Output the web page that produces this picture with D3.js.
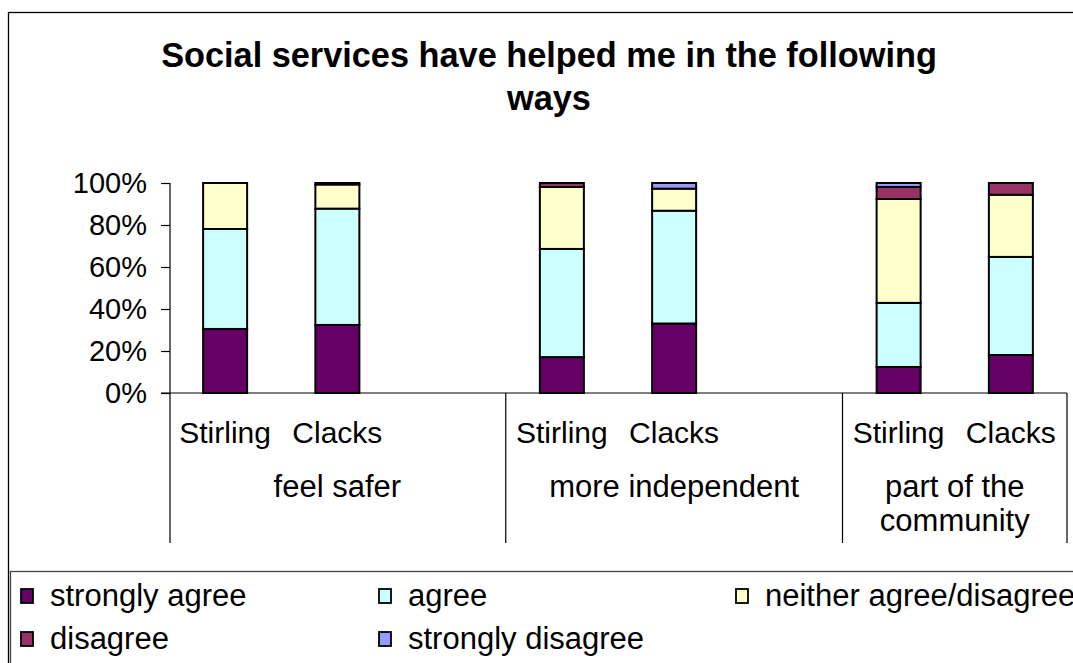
<!DOCTYPE html>
<html>
<head>
<meta charset="utf-8">
<script src="https://cdn.jsdelivr.net/npm/d3@7/dist/d3.min.js"></script>
<style>
  html, body { margin: 0; padding: 0; background: #fff; }
  svg { display: block; }
  text { font-family: "Liberation Sans", Arial, sans-serif; fill: #000; }
</style>
</head>
<body>
<svg id="chart" width="1073" height="663"></svg>
<script>
// ---- data ----
const titleLines = ["Social services have helped me in the following", "ways"];
const groups = ["feel safer", "more independent", "part of the community"];
const groupLabelLines = [["feel safer"], ["more independent"], ["part of the", "community"]];
const areas = ["Stirling", "Clacks"];
const seriesNames = ["strongly agree", "agree", "neither agree/disagree", "disagree", "strongly disagree"];
const seriesColors = ["#660066", "#CCFFFF", "#FFFFCC", "#993366", "#9999FF"];
// values in %, bar order: feel safer (Stirling, Clacks), more independent (Stirling, Clacks), part of the community (Stirling, Clacks)
const stronglyAgree    = [30.5, 32.4, 17.1, 33.1, 12.4, 18.1];
const agree            = [47.6, 55.4, 51.5, 53.7, 30.5, 46.7];
const neither          = [21.9, 11.5, 29.5, 10.5, 49.5, 29.6];
const disagree         = [0.0,  0.7,  1.9,  0.0,  5.7,  5.6];
const stronglyDisagree = [0.0,  0.0,  0.0,  2.7,  1.9,  0.0];
const yTicks = [0, 0.2, 0.4, 0.6, 0.8, 1.0];

// ---- build table ----
const seriesValues = [stronglyAgree, agree, neither, disagree, stronglyDisagree];
const rows = [];
groups.forEach((g, gi) => {
  areas.forEach((a, ai) => {
    const idx = gi * areas.length + ai;
    const r = { key: g + "|" + a, group: g, area: a };
    seriesNames.forEach((s, si) => { r[s] = seriesValues[si][idx] / 100; });
    rows.push(r);
  });
});
const slots = [];
groups.forEach((g, gi) => {
  areas.forEach(a => slots.push(g + "|" + a));
  if (gi < groups.length - 1) slots.push("gap" + gi);
});

const svg = d3.select("#chart");

// outer chart border
svg.append("rect").attr("x", 8.5).attr("y", 12.5).attr("width", 1100).attr("height", 700)
  .attr("fill", "none").attr("stroke", "#000").attr("stroke-width", 1.3);

// title
svg.append("text").attr("x", 549).attr("y", 67).attr("text-anchor", "middle")
  .style("font-weight", "bold").style("font-size", "34.3px")
  .selectAll("tspan").data(titleLines).join("tspan")
  .attr("x", 549).attr("dy", (d, i) => i === 0 ? 0 : 43).text(d => d);

// scales
const x = d3.scaleBand().domain(slots).range([169, 1067]).paddingInner(0.608).paddingOuter(0.304);
const y = d3.scaleLinear().domain([0, 1]).range([393, 183]);

// y axis
const yAxis = d3.axisLeft(y).tickValues(yTicks).tickFormat(d3.format(".0%")).tickSize(9).tickPadding(14);
const gy = svg.append("g").attr("transform", "translate(170,0)").call(yAxis);
gy.select(".domain").remove();
gy.selectAll(".tick line").attr("stroke", "#000").attr("stroke-width", 1.2);
gy.selectAll(".tick text").style("font-size", "29px").attr("fill", "#000");
// y axis line extending down to the bottom of category area
svg.append("line").attr("x1", 170).attr("x2", 170).attr("y1", 183).attr("y2", 543)
  .attr("stroke", "#000").attr("stroke-width", 1.2);

// stacked bars
const stack = d3.stack().keys(seriesNames);
const stacked = stack(rows);
svg.append("g").selectAll("g").data(stacked).join("g")
  .attr("fill", (d, i) => seriesColors[i])
  .selectAll("rect").data(d => d.filter(p => p[1] - p[0] > 0)).join("rect")
  .attr("x", d => x(d.data.key))
  .attr("width", x.bandwidth())
  .attr("y", d => y(d[1]))
  .attr("height", d => y(d[0]) - y(d[1]))
  .attr("stroke", "#000").attr("stroke-width", 2);

// x axis line
svg.append("line").attr("x1", 161).attr("x2", 1067).attr("y1", 393).attr("y2", 393)
  .attr("stroke", "#000").attr("stroke-width", 1.2);

// group dividers
const step = x.step();
const x0 = x.range()[0];
const dividerXs = [];
groups.forEach((g) => {
  const first = slots.indexOf(g + "|" + areas[0]);
  dividerXs.push(x0 + step * first);
});
dividerXs.push(x.range()[1]);
svg.append("g").selectAll("line").data(dividerXs.slice(1)).join("line")
  .attr("x1", d => d).attr("x2", d => d).attr("y1", 393).attr("y2", 543)
  .attr("stroke", "#000").attr("stroke-width", 1.2);

// area labels
svg.append("g").selectAll("text").data(rows).join("text")
  .attr("x", d => x(d.key) + x.bandwidth() / 2).attr("y", 443)
  .attr("text-anchor", "middle").style("font-size", "30px").text(d => d.area);

// group labels
groups.forEach((g, gi) => {
  const cx = (dividerXs[gi] + dividerXs[gi + 1]) / 2;
  svg.append("text").attr("x", cx).attr("y", 497).attr("text-anchor", "middle")
    .style("font-size", "31px")
    .selectAll("tspan").data(groupLabelLines[gi]).join("tspan")
    .attr("x", cx).attr("dy", (d, i) => i === 0 ? 0 : 34).text(d => d);
});

// legend
svg.append("rect").attr("x", 10.5).attr("y", 571.5).attr("width", 1100).attr("height", 200)
  .attr("fill", "#fff").attr("stroke", "#444").attr("stroke-width", 1.3);
const legendPos = [[21, 589], [379, 589], [736, 589], [21, 632], [379, 632]];
const lg = svg.append("g").selectAll("g").data(seriesNames).join("g")
  .attr("transform", (d, i) => `translate(${legendPos[i][0]},${legendPos[i][1]})`);
lg.append("rect").attr("width", 12).attr("height", 14)
  .attr("fill", (d, i) => seriesColors[i]).attr("stroke", "#000").attr("stroke-width", 1.8);
lg.append("text").attr("x", 29).attr("y", 17).style("font-size", "31px").text(d => d);
</script>
</body>
</html>
